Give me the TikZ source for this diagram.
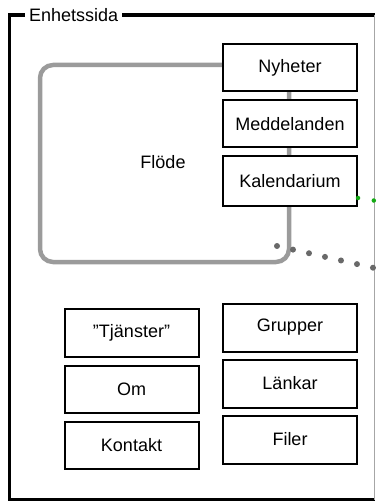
\documentclass[tikz,border=0pt]{standalone}
\usepackage{fontspec}
\setmainfont{Liberation Sans}
\definecolor{flodegray}{RGB}{155,155,155}
\definecolor{dotgray}{RGB}{105,105,105}
\definecolor{dotgreen}{RGB}{20,170,20}
\tikzset{
  pagebox/.style={draw=black, line width=2pt, fill=white, minimum width=134pt, inner sep=0pt,
    font=\fontsize{18}{20}\selectfont},
  flodebox/.style={draw=flodegray, line width=4.5pt, rounded corners=13pt, inner sep=0pt,
    minimum width=249pt, minimum height=197pt},
  framelabel/.style={fill=white, inner xsep=4pt, inner ysep=1pt, font=\fontsize{18}{20}\selectfont},
}
\begin{document}
\begin{tikzpicture}[x=1pt,y=-1pt]
\useasboundingbox (0,0) rectangle (376,502);
% outer frame
\draw[line width=3.5pt] (374.5,15) -- (9.5,15) -- (9.5,499.5) -- (374.5,499.5);
\draw[line width=1pt, black!35] (374.5,15) -- (374.5,499.5);
\node[framelabel, anchor=west] (title) at (25,15) {Enhetssida};
% Flöde area
\node[flodebox] (flode) at (164.5,163.5) {};
\node[font=\fontsize{18}{20}\selectfont] (flodetext) at (163,162) {Flöde};
% right top column
\node[pagebox, minimum height=47pt] (nyheter) at (290,68) {Nyheter};
\node[pagebox, minimum height=47pt] (meddelanden) at (290,124) {Meddelanden};
\node[pagebox, minimum height=50pt] (kalendarium) at (290,181.5) {Kalendarium};
% bottom columns
\node[pagebox, minimum height=48pt] (tjanster) at (131.5,332.5) {\symbol{34}Tjänster\symbol{34}};
\node[pagebox, minimum height=47pt] (om) at (131.5,389) {Om};
\node[pagebox, minimum height=47pt] (kontakt) at (131.5,445) {Kontakt};
\node[pagebox, minimum height=48pt] (grupper) at (290,327.5) {Grupper};
\node[pagebox, minimum height=48pt] (lankar) at (290,383.5) {Länkar};
\node[pagebox, minimum height=48pt] (filer) at (290,439.5) {Filer};
% dotted connectors
\coordinate (dotstart) at (277,246);
\coordinate (dotend) at (376,268.4);
\draw[dotgray, line width=6pt, line cap=round, dash pattern=on 0pt off 16.4pt] (dotstart) -- (dotend);
\coordinate (greenstart) at (kalendarium.east |- 0,198);
\coordinate (greenend) at (380,201.5);
\draw[dotgreen, line width=4.5pt, line cap=round, dash pattern=on 0pt off 16pt] (greenstart) -- (greenend);
\end{tikzpicture}
\end{document}
